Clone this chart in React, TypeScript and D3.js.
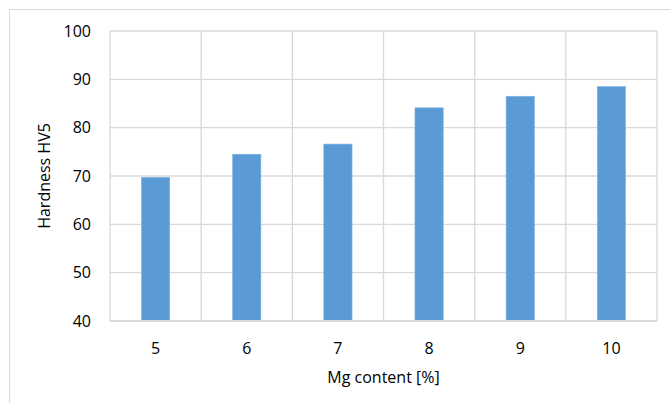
import React from "react";
import * as d3 from "d3";

const categories = ["5", "6", "7", "8", "9", "10"];
const values = [69.7, 74.5, 76.6, 84.1, 86.5, 88.5];
const yTicks = [40, 50, 60, 70, 80, 90, 100];
const xTitle = "Mg content [%]";
const yTitle = "Hardness HV5";

export default function App() {
  const W = 670, H = 403;
  const left = 110, right = 657, top = 31, bottom = 321;
  const x = d3.scaleBand().domain(categories).range([left, right]).paddingInner(0.69).paddingOuter(0.345);
  const xb = d3.scaleBand().domain(categories).range([left, right]);
  const y = d3.scaleLinear().domain([40, 100]).range([bottom, top]);
  const font = "'Open Sans', 'Liberation Sans', sans-serif";
  const fs = 16;
  return (
    <svg width={W} height={H} style={{ position: "absolute", left: 0, top: 0 }}>
      <rect x={0} y={0} width={W} height={H} fill="#fff" />
      <rect x={9.5} y={9.5} width={W + 10} height={H + 10} fill="none" stroke="#d9d9d9" />
      {yTicks.map((t) => (
        <line key={t} x1={left} x2={right} y1={y(t)} y2={y(t)} stroke="#d9d9d9" strokeWidth={1.3} />
      ))}
      {categories.map((c) => (
        <line key={c} x1={xb(c)!} x2={xb(c)!} y1={top} y2={bottom} stroke="#d9d9d9" strokeWidth={1.3} />
      ))}
      <line x1={right} x2={right} y1={top} y2={bottom} stroke="#d9d9d9" strokeWidth={1.3} />
      {categories.map((c, i) => (
        <rect key={c} x={x(c)!} y={y(values[i])} width={x.bandwidth()} height={bottom - y(values[i])} fill="#5b9bd5" stroke="#7fb2e0" strokeWidth={0.6} />
      ))}
      <line x1={left} x2={right} y1={bottom} y2={bottom} stroke="#d9d9d9" strokeWidth={2} />
      {yTicks.map((t) => (
        <text key={t} x={91} y={y(t)} dy="0.35em" textAnchor="end" fontFamily={font} fontSize={fs} fill="#000">{t}</text>
      ))}
      {categories.map((c) => (
        <text key={c} x={xb(c)! + xb.bandwidth() / 2} y={348} dy="0.35em" textAnchor="middle" fontFamily={font} fontSize={fs} fill="#000">{c}</text>
      ))}
      <text x={(left + right) / 2} y={377} dy="0.35em" textAnchor="middle" fontFamily={font} fontSize={fs} fill="#000">{xTitle}</text>
      <text transform={`translate(44,176) rotate(-90)`} dy="0.35em" textAnchor="middle" fontFamily={font} fontSize={fs} fill="#000">{yTitle}</text>
    </svg>
  );
}
